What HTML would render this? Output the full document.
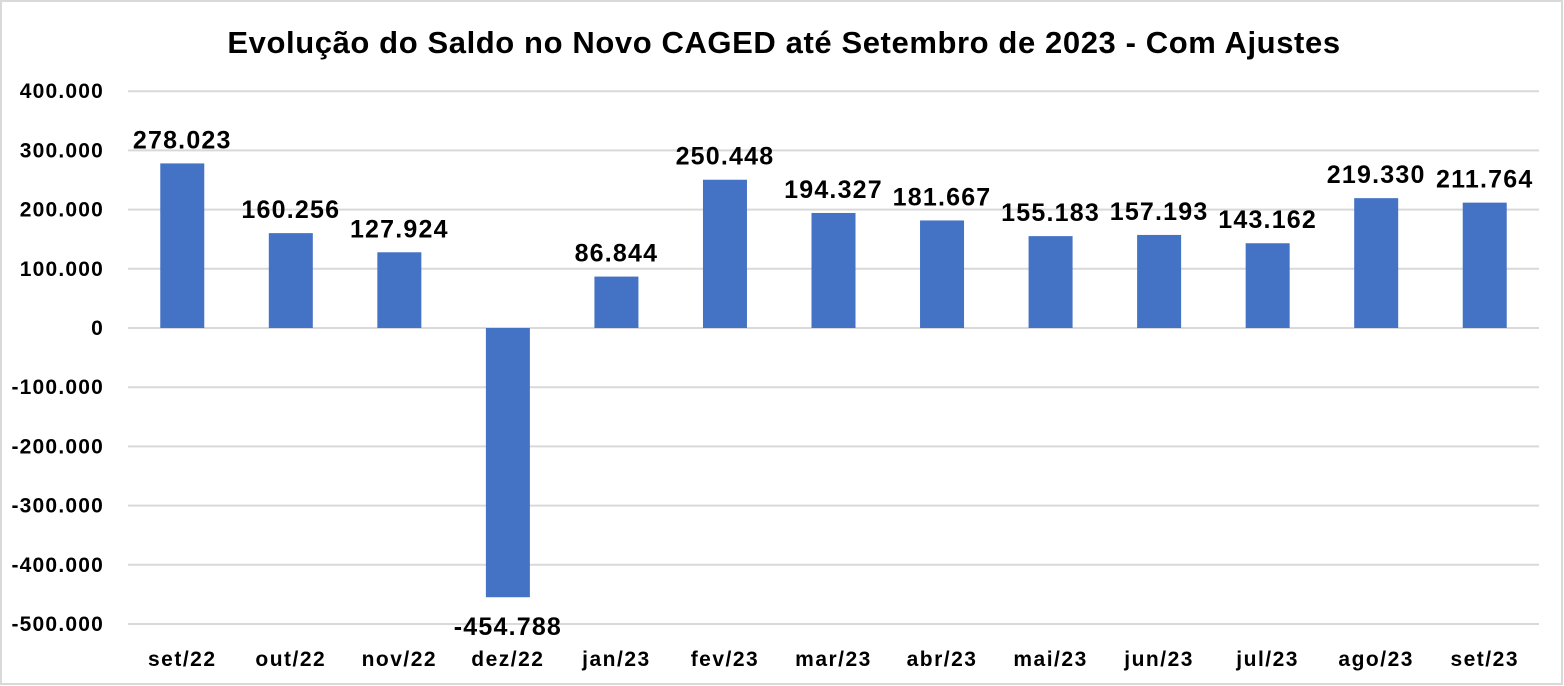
<!DOCTYPE html>
<html><head><meta charset="utf-8"><style>
body{margin:0;background:#fff}
svg{display:block;font-family:"Liberation Sans",sans-serif;font-weight:bold}
</style></head><body>
<svg width="1564" height="686">
<rect x="1" y="1" width="1561" height="683" fill="#fff" stroke="#d9d9d9" stroke-width="2"/>
<text x="784" y="53" text-anchor="middle" font-size="31" letter-spacing="0.6" fill="#000">Evolução do Saldo no Novo CAGED até Setembro de 2023 - Com Ajustes</text>
<g id="grid"></g><g id="bars"></g><g id="labels"></g>
</svg>
<script>
const categories=["set/22","out/22","nov/22","dez/22","jan/23","fev/23","mar/23","abr/23","mai/23","jun/23","jul/23","ago/23","set/23"];
const values=[278023,160256,127924,-454788,86844,250448,194327,181667,155183,157193,143162,219330,211764];
const valueLabels=["278.023","160.256","127.924","-454.788","86.844","250.448","194.327","181.667","155.183","157.193","143.162","219.330","211.764"];
const ticks=[400000,300000,200000,100000,0,-100000,-200000,-300000,-400000,-500000];
const tickLabels=["400.000","300.000","200.000","100.000","0","-100.000","-200.000","-300.000","-400.000","-500.000"];
const NS="http://www.w3.org/2000/svg";
const L=128,R=1539,y0=328,pxPer=59.2/100000;
const y=v=>y0-v*pxPer;
const band=(R-L)/categories.length;
const xc=i=>L+band*(i+0.5);
function mk(t,a,p){const e=document.createElementNS(NS,t);for(const k in a)e.setAttribute(k,a[k]);document.getElementById(p).appendChild(e);return e;}
ticks.forEach((t,i)=>{
 const l=mk('line',{x1:L,x2:R,y1:y(t),y2:y(t),stroke:'#d9d9d9','stroke-width':2},'grid');
 
 
 const tx=mk('text',{x:104,y:y(t)+7,'text-anchor':'end','font-size':21,'letter-spacing':1.2,fill:'#000'},'grid');
 tx.textContent=tickLabels[i];
 
 
});
values.forEach((v,i)=>{
 const w=44;
 const r=mk('rect',{x:xc(i)-w/2,y:Math.min(y(v),y0),width:w,height:Math.abs(y(v)-y0),fill:'#4472c4'},'bars');
 
 
 const ly=v>=0?y(v)-15:y(v)+38;
 const t=mk('text',{x:xc(i),y:ly,'text-anchor':'middle','font-size':25,'letter-spacing':1.2,fill:'#000'},'labels');
 t.textContent=valueLabels[i];
 
 
 const c=mk('text',{x:xc(i),y:666,'text-anchor':'middle','font-size':21,'letter-spacing':1.5,fill:'#000'},'labels');
 c.textContent=categories[i];
 
 
});
</script>
</body></html>
